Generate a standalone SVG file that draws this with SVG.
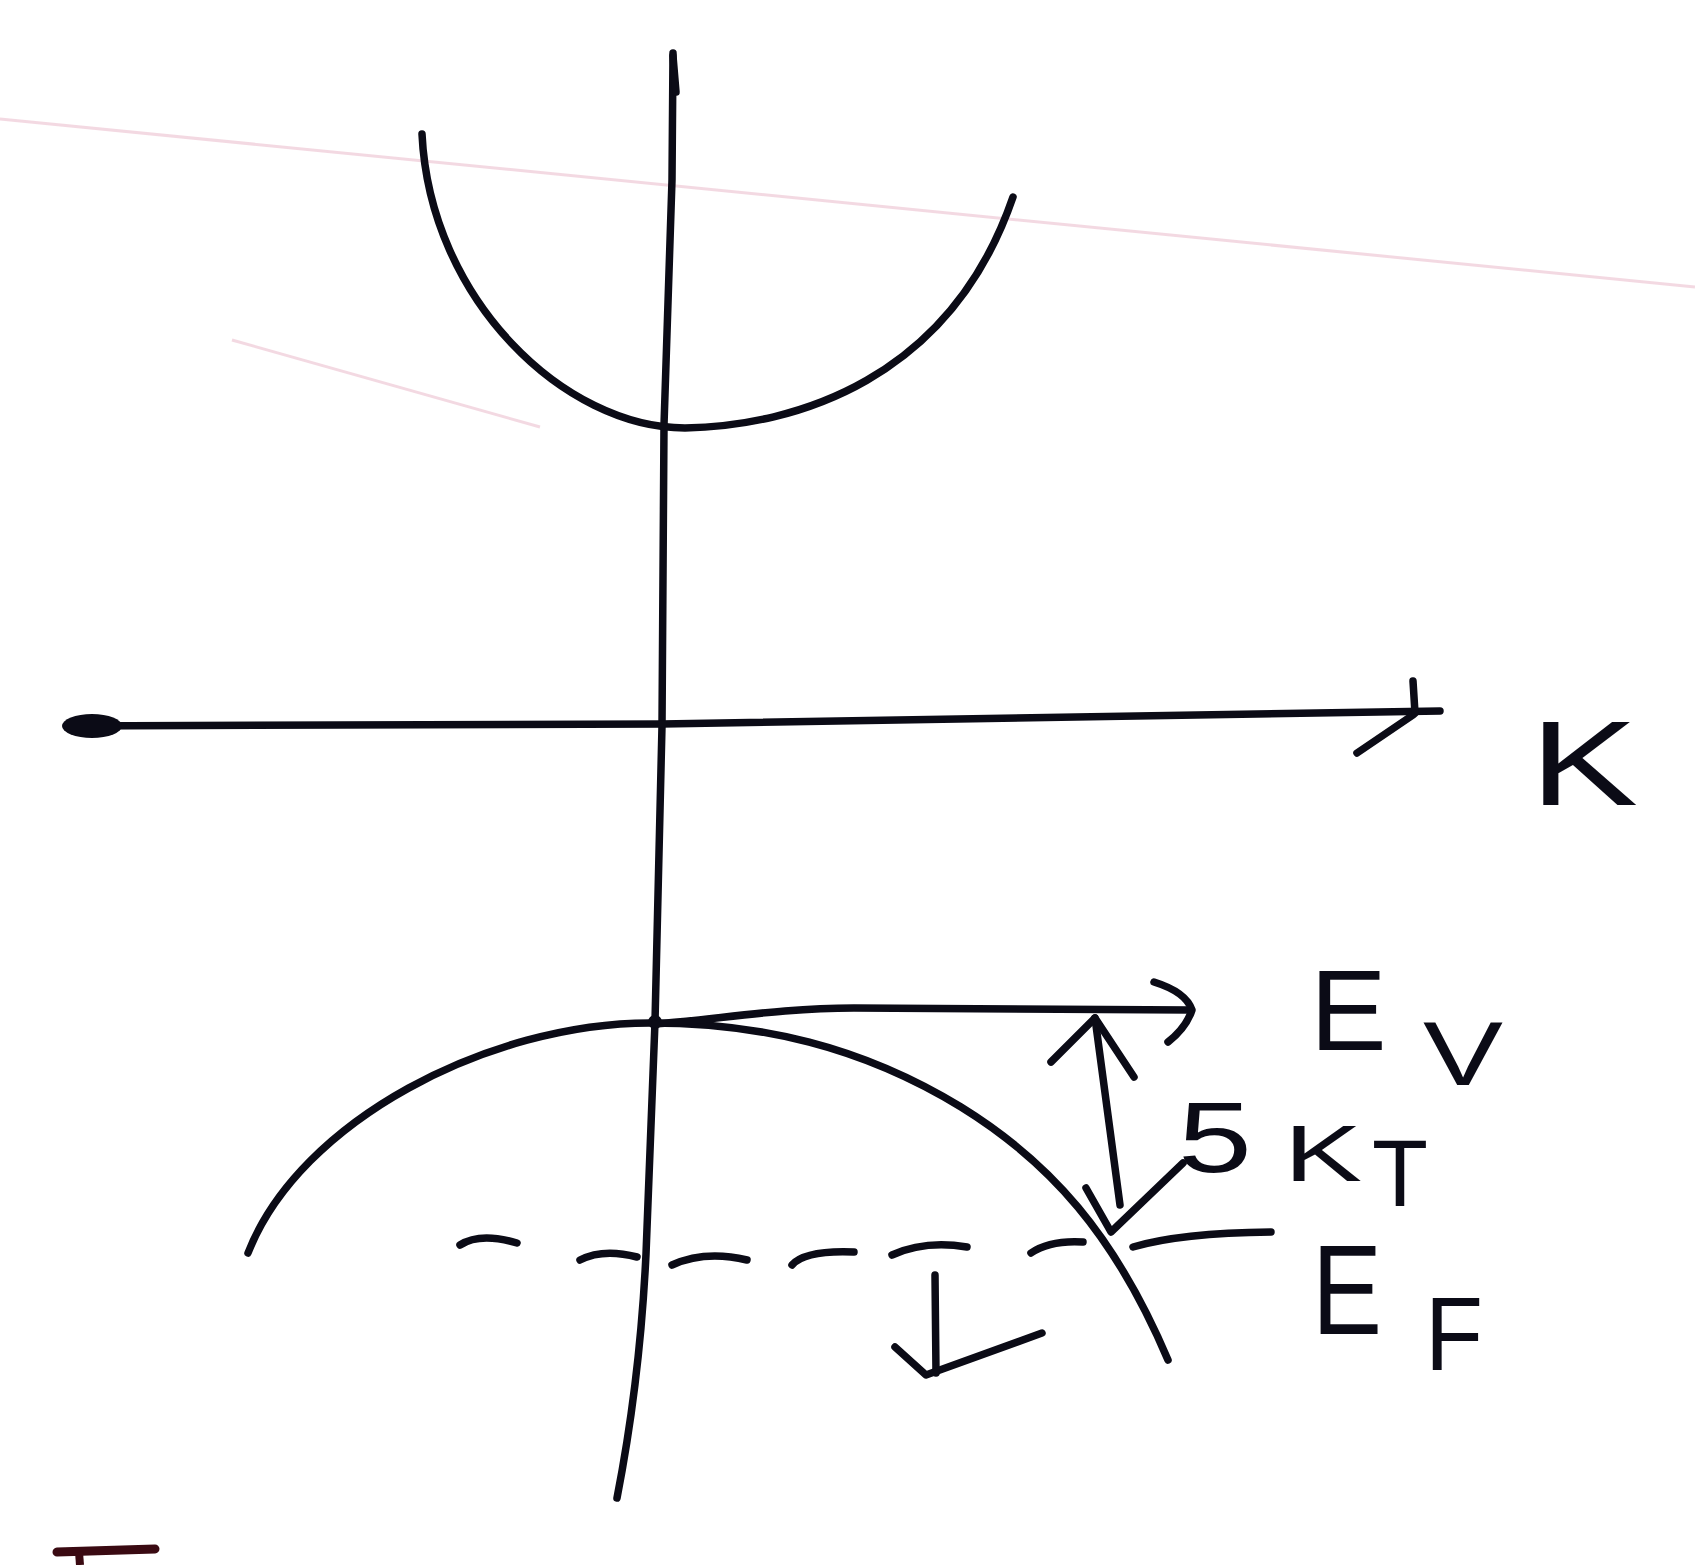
<svg xmlns="http://www.w3.org/2000/svg" width="1695" height="1565" viewBox="0 0 1695 1565">
  <style>
    .ink { fill: none; stroke: #0b0b16; stroke-width: 7.5; stroke-linecap: round; stroke-linejoin: round; }
    .lbl { font-family: "Liberation Sans", "DejaVu Sans", sans-serif; fill: #0b0b16; }
    .ruling { fill: none; stroke: #eab9cb; stroke-width: 3; opacity: 0.55; }
  </style>
  <rect x="0" y="0" width="1695" height="1565" fill="#ffffff"/>

  <g id="background">
    <path class="ruling" d="M0,119 L1695,287"/>
    <path class="ruling" d="M232,340 L540,427"/>
  </g>

  <g id="axes">
    <path class="ink" d="M673,53 L672,180 L664,425 L662,726 L655,1022 L646,1254 Q640,1380 617,1498"/>
    <path class="ink" stroke-width="10" d="M673,56 L676,92"/>
    <path class="ink" d="M67,726 L662,724 L1440,711"/>
    <ellipse cx="92" cy="726" rx="30" ry="12" fill="#0b0b16"/>
    <path class="ink" d="M1357,753 L1413,715"/>
    <path class="ink" d="M1413,681 L1415,713"/>
  </g>

  <g id="conduction-band">
    <path class="ink" d="M422,134 C430,300 565,428 685,428 C795,426 950,380 1013,197"/>
  </g>

  <g id="valence-band">
    <path class="ink" d="M248,1253 C300,1120 490,1023 650,1023 C760,1023 861,1046 961,1107 C1050,1162 1115,1235 1168,1360"/>
    <circle cx="655" cy="1022" r="7" fill="#0b0b16"/>
  </g>

  <g id="connectors">
    <g id="ev-arrow">
      <path class="ink" d="M655,1024 C720,1019 780,1008 854,1008 L1190,1010"/>
      <path class="ink" d="M1154,982 Q1186,992 1192,1010 Q1186,1028 1168,1042"/>
    </g>
    <g id="kt-double-arrow">
      <path class="ink" d="M1095,1018 L1120,1205"/>
      <path class="ink" d="M1051,1062 L1095,1018 L1134,1077"/>
      <path class="ink" d="M1086,1188 L1111,1232 L1183,1163"/>
    </g>
    <g id="fermi-level">
      <path class="ink" d="M460,1245 Q480,1232 517,1243"/>
      <path class="ink" d="M580,1260 Q603,1248 637,1257"/>
      <path class="ink" d="M672,1265 Q705,1250 747,1260"/>
      <path class="ink" d="M792,1265 Q805,1250 854,1252"/>
      <path class="ink" d="M892,1255 Q925,1240 967,1247"/>
      <path class="ink" d="M1031,1253 Q1050,1240 1083,1242"/>
      <path class="ink" d="M1133,1247 Q1180,1233 1271,1232"/>
    </g>
    <g id="down-arrow">
      <path class="ink" d="M935,1275 L936,1373"/>
      <path class="ink" d="M895,1347 L926,1375 L1042,1333"/>
    </g>
  </g>

  <g id="label-k">
    <text class="lbl" x="1530" y="805" font-size="120" textLength="108" lengthAdjust="spacingAndGlyphs">K</text>
  </g>
  <g id="label-ev">
    <text class="lbl" x="1310" y="1050" font-size="115">E</text>
    <text class="lbl" x="1423" y="1085" font-size="90" textLength="80" lengthAdjust="spacingAndGlyphs">V</text>
  </g>
  <g id="label-5kt">
    <text class="lbl" x="1178" y="1172" font-size="100" textLength="74" lengthAdjust="spacingAndGlyphs">5</text>
    <text class="lbl" x="1284" y="1181" font-size="80" textLength="78" lengthAdjust="spacingAndGlyphs">K</text>
    <text class="lbl" x="1372" y="1206" font-size="95" textLength="56" lengthAdjust="spacingAndGlyphs">T</text>
  </g>
  <g id="label-ef">
    <text class="lbl" x="1312" y="1334" font-size="128" textLength="70" lengthAdjust="spacingAndGlyphs">E</text>
    <text class="lbl" x="1425" y="1370" font-size="104" textLength="58" lengthAdjust="spacingAndGlyphs">F</text>
  </g>

  <g id="edge-mark">
    <path d="M57,1552 L155,1549" fill="none" stroke="#3a0a12" stroke-width="9" stroke-linecap="round"/>
    <path d="M79,1552 L80,1565" fill="none" stroke="#3a0a12" stroke-width="8"/>
  </g>
</svg>
